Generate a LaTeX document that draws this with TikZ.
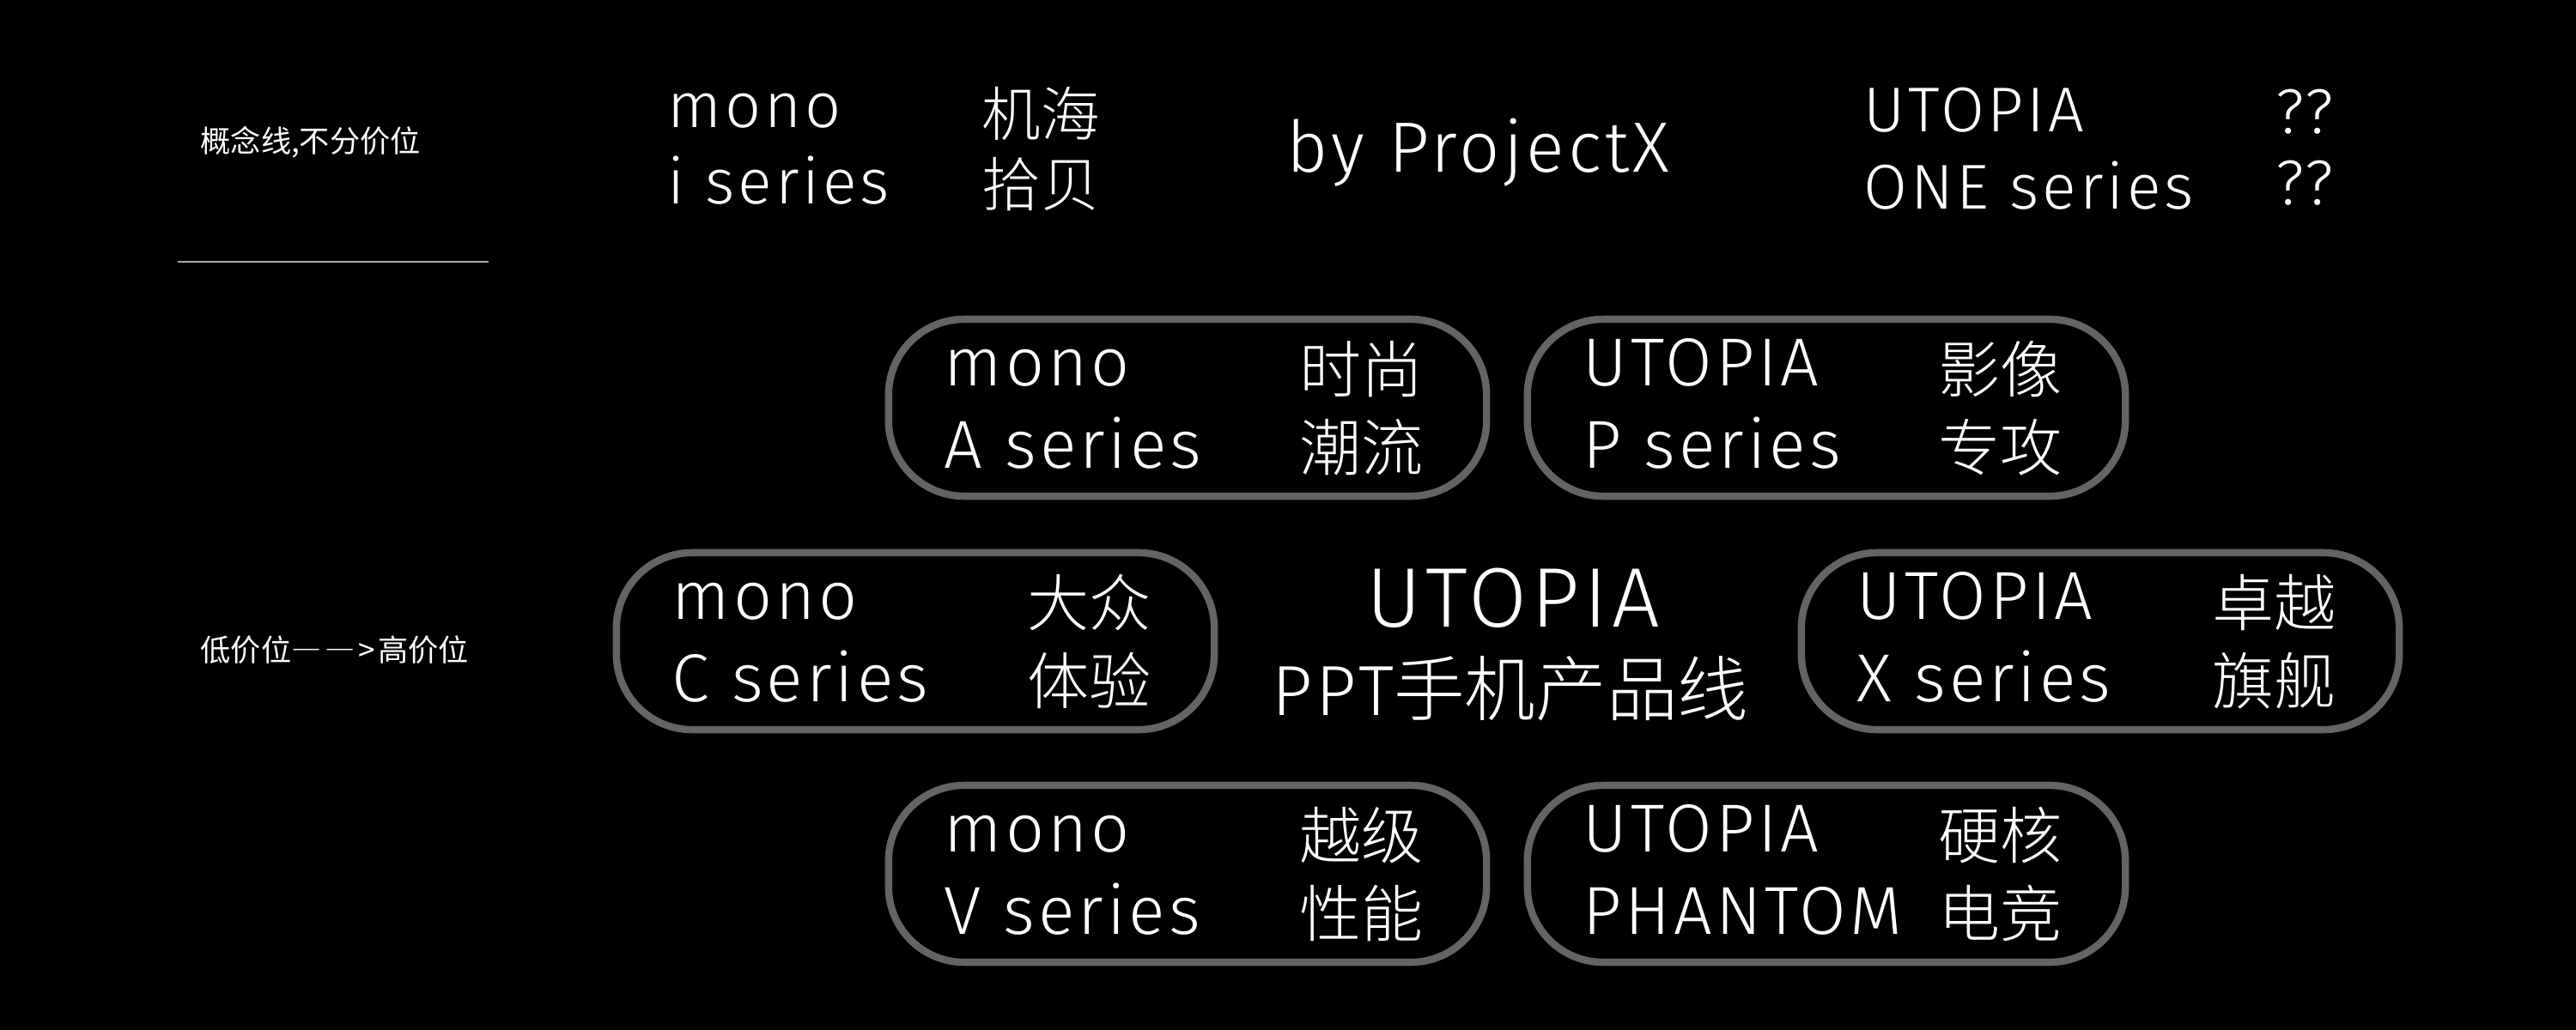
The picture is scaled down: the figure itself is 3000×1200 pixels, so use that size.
\documentclass[tikz,border=0pt]{standalone}
\usepackage{fontspec}
\usetikzlibrary{calc}
\IfFontExistsTF{Fira Sans Light}{\setmainfont{Fira Sans Light}[LetterSpace=5]}{\setmainfont{Fira Sans}[LetterSpace=5]}
\IfFontExistsTF{Noto Sans CJK SC Light}{\newfontfamily\cjkl{Noto Sans CJK SC Light}}{\newfontfamily\cjkl{Noto Sans CJK SC}}
\newfontfamily\cjk{Noto Sans CJK SC}
\definecolor{pillgray}{HTML}{646464}
\definecolor{rulegray}{HTML}{A8A8A8}
\newcommand\myfs[1]{\fontsize{#1}{#1}\selectfont}
\tikzset{
  lat/.style={text=white, inner sep=0pt, anchor=base west},
  cj/.style={text=white, inner sep=0pt, anchor=west},
  pill/.style={draw=pillgray, line width=2.4pt, rounded corners=0.88cm,
    minimum width=6.96cm, minimum height=2.06cm, inner sep=0pt},
  toplat/.style={lat, font=\myfs{21pt}},
  topcj/.style={cj, font=\cjkl\myfs{19.5pt}},
  pilllat/.style={lat, font=\myfs{22.5pt}},
  pillcj/.style={cj, font=\cjkl\myfs{20.5pt}},
  smallcj/.style={cj, font=\cjk\myfs{10pt}},
}
\newcommand\mkpill[7]{%
  \node[pill] (#1) at (#2,#3) {};
  \node[pilllat] (#1-t) at ($(#1)+(-284,-26)$) {#4};
  \node[pilllat] (#1-b) at ($(#1)+(-284,70)$) {#5};
  \node[pillcj] (#1-c1) at ($(#1)+(130,-45)$) {#6};
  \node[pillcj] (#1-c2) at ($(#1)+(130,46)$) {#7};
}
\begin{document}
\begin{tikzpicture}[x=0.01cm, y=-0.01cm]
  \fill[black] (0,0) rectangle (3000,1200);
  \useasboundingbox (0,0) rectangle (3000,1200);

  % left labels
  \node[smallcj] (lab1) at (233,166) {概念线,不分价位};
  \coordinate (r1) at (207,305);
  \coordinate (r2) at (569,305);
  \draw[rulegray, line width=0.7pt] (r1) -- (r2);
  \node[smallcj] (lab2) at (233,757) {低价位{\addfontfeature{RawFeature=+fwid}—\kern1.2pt—}\kern1pt>\kern1pt高价位};

  % top row
  \node[toplat] (t1a) at (777,148) {mono};
  \node[toplat] (t1b) at (777,237) {i series};
  \node[topcj] (t1c) at (1143,132) {机海};
  \node[topcj] (t1d) at (1143,215) {拾贝};
  \node[lat, font=\myfs{23.6pt}] (by) at (1498,200) {by ProjectX};
  \node[toplat] (t2a) at (2170,153) {UTOPIA};
  \node[toplat] (t2b) at (2170,243) {ONE series};
  \node[toplat] (t2c) at (2650,155) {??};
  \node[toplat] (t2d) at (2650,238) {??};

  % centre title
  \node[text=white, inner sep=0pt, anchor=base, font=\myfs{28pt}] (ct1) at (1762,730) {UTOPIA};
  \node[text=white, inner sep=0pt, anchor=base, font=\myfs{23.5pt}] (ct2) at (1759,833) {PPT{\cjkl 手机产品线}};

  % pills
  \mkpill{pA}{1383}{475}{mono}{A series}{时尚}{潮流}
  \mkpill{pP}{2127}{475}{UTOPIA}{P series}{影像}{专攻}
  \mkpill{pC}{1066}{747}{mono}{C series}{大众}{体验}
  \mkpill{pX}{2446}{747}{UTOPIA}{X series}{卓越}{旗舰}
  \mkpill{pV}{1383}{1018}{mono}{V series}{越级}{性能}
  \mkpill{pH}{2127}{1018}{UTOPIA}{PHANTOM}{硬核}{电竞}
\end{tikzpicture}
\end{document}
